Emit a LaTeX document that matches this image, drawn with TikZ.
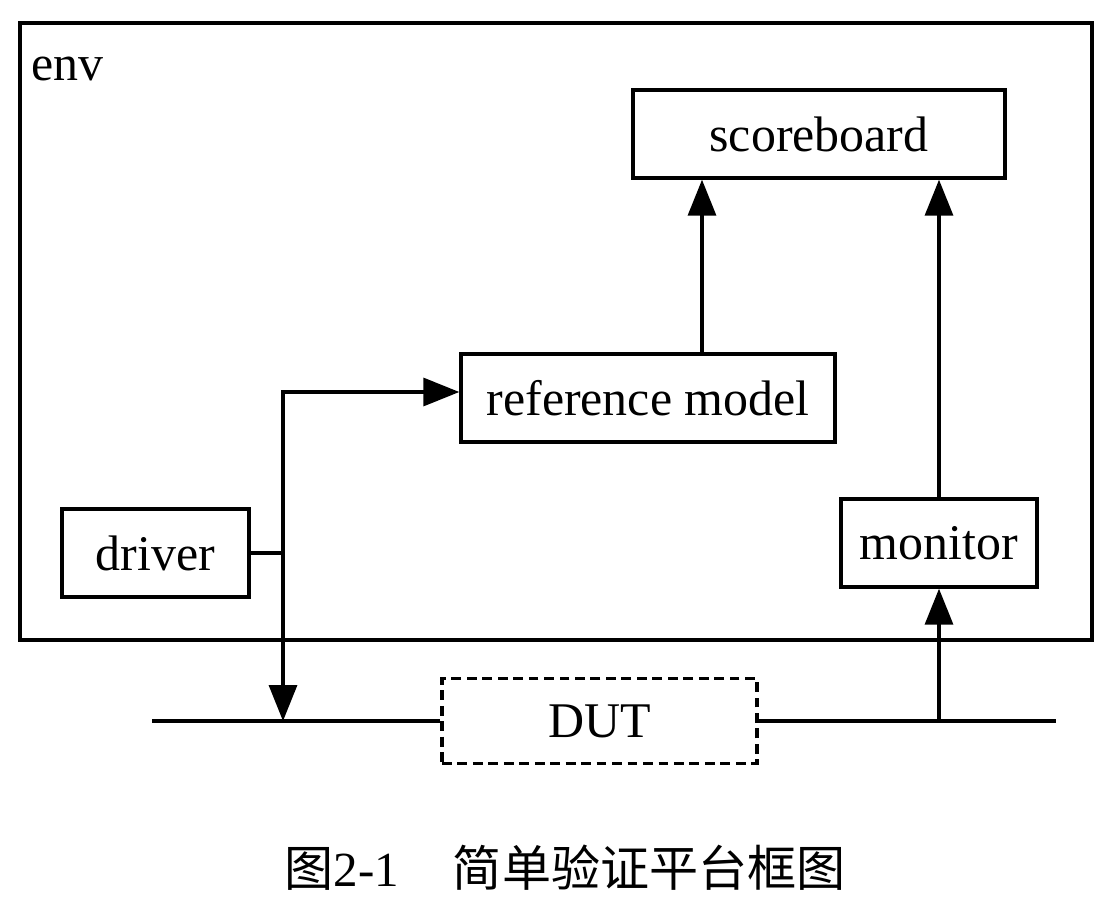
\documentclass[tikz,border=0pt]{standalone}
\usepackage{fontspec}
\setmainfont{Liberation Serif}
\newfontfamily\cjkfont{Noto Sans CJK SC}
\usepackage{xcolor}
\usepackage{tikz}
\usetikzlibrary{shapes,arrows.meta,positioning}

\tikzset{
    block/.style={
        draw,
        line width=2.4pt,
        inner sep=0pt,
        minimum height=2.2cm,
        font=\fontsize{35.5pt}{40pt}\selectfont
    },
    link/.style={line width=2.4pt},
    >={Triangle[length=9mm,width=7mm]}
}

\begin{document}
\begin{tikzpicture}
                \useasboundingbox (0,0) rectangle (27.55,-22.575);

                \node[
                    draw,
                    line width=2.4pt,
                    minimum width=26.8cm,
                    minimum height=15.425cm
                ] (env) at (13.9,-8.2875) {};

                \node[
                    anchor=base west,
                    inner sep=0pt,
                    font=\fontsize{35.5pt}{40pt}\selectfont
                ] (envlabel) at (0.77,-2.0) {env};

                \node[
                    block,
                    minimum width=9.3cm
                ] (scoreboard) at (20.475,-3.35) {scoreboard};

                \node[
                    block,
                    minimum width=9.35cm
                ] (refmodel) at (16.2,-9.95) {reference model};

                \node[
                    block,
                    minimum width=4.675cm
                ] (driver) at (3.8875,-13.825) {driver};

                \node[
                    block,
                    minimum width=4.9cm
                ] (monitor) at (23.475,-13.575) {monitor};

                \node[
                    block,
                    dash pattern=on 7pt off 4pt,
                    minimum width=7.875cm,
                    minimum height=2.125cm
                ] (dut) at (14.9875,-18.025) {DUT};

                \coordinate (corner) at (7.075,-9.8);
                \coordinate (refout) at (17.55,0);
                \coordinate (busL) at (3.8,0);
                \coordinate (busR) at (26.4,0);

                \draw[link] (busL |- dut.west) -- (dut.west);
                \draw[link] (dut.east) -- (busR |- dut.east);

                \draw[link] (driver.east) -- (driver.east -| corner);
                \draw[link,<->] (corner |- dut.west) -- (corner) -- (corner -| refmodel.west);

                \draw[link,->] (refout |- refmodel.north) -- (refout |- scoreboard.south);
                \draw[link,->] (monitor.north) -- (monitor.north |- scoreboard.south);
                \draw[link,->] (monitor.south |- dut.east) -- (monitor.south);

                \node[
                    font=\fontsize{34.9pt}{40pt}\selectfont
                ] (caption) at (14.125,-21.7) {{\cjkfont 图}2-1\hspace{1.1em}{\cjkfont 简单验证平台框图}};

\end{tikzpicture}
\end{document}
